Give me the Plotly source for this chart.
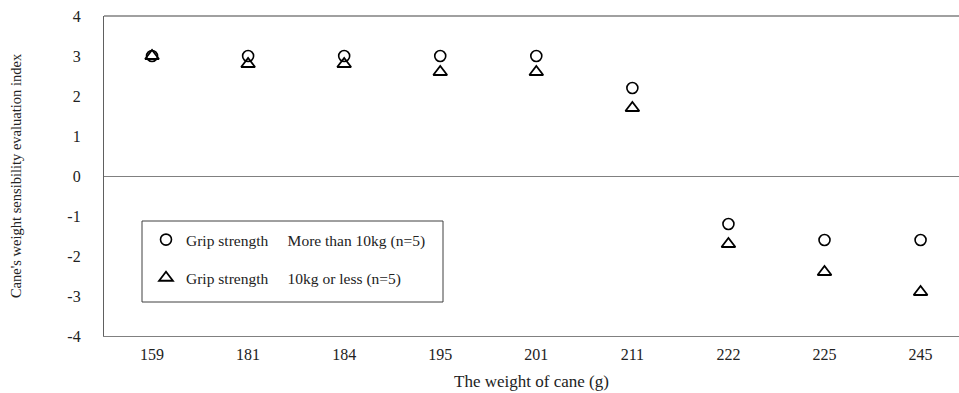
import plotly.graph_objects as go

weights = ["159", "181", "184", "195", "201", "211", "222", "225", "245"]
more_than_10kg = [3.0, 3.0, 3.0, 3.0, 3.0, 2.2, -1.2, -1.6, -1.6]
ten_kg_or_less = [3.0, 2.8, 2.8, 2.6, 2.6, 1.7, -1.7, -2.4, -2.9]
y_ticks = [-4, -3, -2, -1, 0, 1, 2, 3, 4]

NB = "\u00a0"
name1 = "Grip strength" + NB * 5 + "More than 10kg (n=5)"
name2 = "Grip strength" + NB * 5 + "10kg or less (n=5)"

FONT = "Liberation Serif, Times New Roman, serif"

fig = go.Figure()
fig.add_trace(go.Scatter(
    x=weights, y=more_than_10kg, mode="markers", name=name1,
    legendgroup="a",
    marker=dict(symbol="circle-open", size=11, color="black",
                line=dict(color="black", width=1.6)),
))
fig.add_trace(go.Scatter(
    x=weights, y=ten_kg_or_less, mode="markers", name=name2,
    legendgroup="b",
    marker=dict(symbol="triangle-up-open", size=12, color="black",
                line=dict(color="black", width=1.8)),
))

L, T, B = 104, 16, 57
W, H = 959, 393
pw, ph = W - L, H - T - B

def px_x(x):
    return (x - L) / pw

def px_y(y):
    return (H - B - y) / ph

# plot border (top) and legend box
fig.add_shape(type="line", xref="paper", yref="paper", x0=0, x1=1, y0=1, y1=1,
              line=dict(color="#808080", width=1.3))
fig.add_shape(type="rect", xref="paper", yref="paper",
              x0=px_x(142), x1=px_x(443), y0=px_y(302), y1=px_y(221),
              line=dict(color="#404040", width=1), fillcolor="rgba(0,0,0,0)")

fig.update_layout(
    width=W, height=H,
    margin=dict(l=L, r=0, t=T, b=B),
    paper_bgcolor="white", plot_bgcolor="white",
    font=dict(family=FONT, color="#222", size=15),
    showlegend=True,
    legend=dict(
        x=px_x(146), y=px_y(223), xanchor="left", yanchor="top",
        bgcolor="rgba(0,0,0,0)", borderwidth=0,
        font=dict(family=FONT, size=15.5, color="#222"),
        tracegroupgap=15, itemwidth=30,
    ),
    xaxis=dict(
        type="category", range=[-0.5, 8.4],
        showgrid=False, zeroline=False,
        showline=True, linecolor="#808080", linewidth=1.3,
        ticks="", ticklabelstandoff=4, tickfont=dict(size=16, family=FONT),
        title=dict(text="The weight of cane (g)", font=dict(size=17, family=FONT), standoff=12),
    ),
    yaxis=dict(
        range=[-4, 4], tickvals=y_ticks, ticktext=[str(v) for v in y_ticks],
        showgrid=False, zeroline=True, zerolinecolor="#808080", zerolinewidth=1.3,
        showline=True, linecolor="#606060", linewidth=1.3,
        ticks="", ticklabelstandoff=19, tickfont=dict(size=16, family=FONT),
        title=dict(text="Cane's weight sensibility evaluation index",
                   font=dict(size=14.5, family=FONT), standoff=42),
    ),
)

fig.write_html(
    "out.html",
    config={"displayModeBar": False},
    post_script="document.body.style.margin='0';document.body.style.overflow='hidden';",
)
